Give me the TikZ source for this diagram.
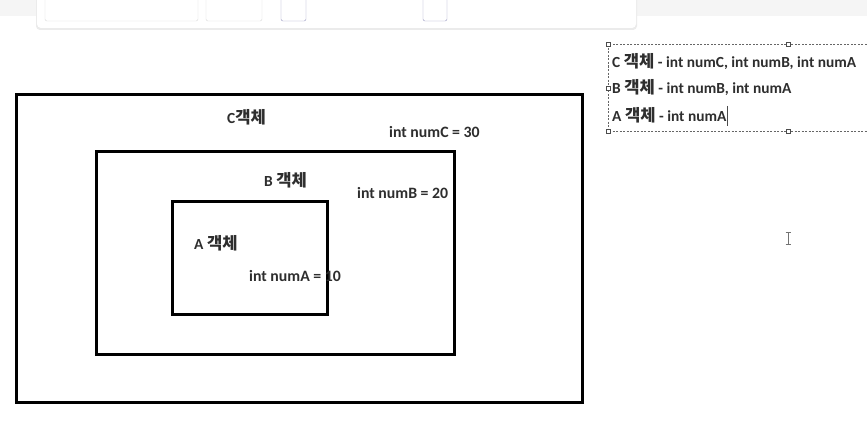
\documentclass[tikz,border=0pt]{standalone}
\usepackage{fontspec}
\setmainfont{Carlito}
\newfontfamily\kr{Noto Sans CJK KR}[Scale=1.08]
\tikzset{
  box/.style={draw=black, line width=2.7pt},
  lbl/.style={font=\bfseries\fontsize{15.8}{18}\selectfont, text=black!82, inner sep=0pt, anchor=west},
  klbl/.style={font=\bfseries\fontsize{15.4}{18}\selectfont, text=black!82, inner sep=0pt, anchor=west},
  handle/.style={draw=black!70, fill=white, line width=0.5pt, minimum size=4pt, inner sep=0pt, rectangle},
}
\newcommand{\K}[1]{{\kr\bfseries #1}}
\begin{document}
\begin{tikzpicture}[x=1pt,y=-1pt]
\useasboundingbox (0,0) rectangle (867,428);
\fill[white] (0,0) rectangle (867,428);
% UI toolbar remnant
\fill[black!4] (0,0) rectangle (867,16);
\fill[black!8, rounded corners=4pt] (36,-10) rectangle (637,30);
\fill[white, rounded corners=4pt] (37,-10) rectangle (636,28);
\draw[black!15, rounded corners=2pt] (45,-5) rectangle (198,21);
\draw[black!15, rounded corners=2pt] (206,-5) rectangle (262,21);
\draw[blue!40!black!40, rounded corners=2pt] (281,-5) rectangle (306,21);
\draw[blue!40!black!40, rounded corners=2pt] (423,-5) rectangle (447,21);
% boxes
\node[box, minimum width=566pt, minimum height=308pt, anchor=north west, inner sep=0pt] (C) at (15,93) {};
\node[box, minimum width=358pt, minimum height=203pt, anchor=north west, inner sep=0pt] (B) at (95,150) {};
\node[box, minimum width=155pt, minimum height=113pt, anchor=north west, inner sep=0pt] (A) at (171,200) {};
% labels
\node[klbl] (cl) at (227,117) {C\K{객체}};
\node[lbl] (cv) at (389,132) {int numC = 30};
\node[klbl] (bl) at (264,180) {B \K{객체}};
\node[lbl] (bv) at (357,193) {int numB = 20};
\node[klbl] (al) at (194,243) {A \K{객체}};
\node[lbl] (av) at (249,276) {int numA = 10};
% selected text box
\draw[black!60, dashed, dash pattern=on 2pt off 1.5pt, line width=0.5pt] (870,44) -- (608,44) -- (608,131) -- (870,131);
\node[handle] (h1) at (608,44) {};
\node[handle] (h2) at (788,44) {};
\node[handle] (h3) at (608,88) {};
\node[handle] (h4) at (608,131) {};
\node[handle] (h5) at (788,131) {};
\node[klbl] (t1) at (612,62) {C \K{객체} - int numC, int numB, int numA};
\node[klbl] (t2) at (612,88) {B \K{객체} - int numB, int numA};
\node[klbl] (t3) at (612,115) {A \K{객체} - int numA};
\draw[black!70, line width=0.6pt] (t3.north east) ++(1,-1) -- ++(0,20);
% mouse I-beam cursor
\coordinate (cur) at (788,238);
\draw[black!55, line width=1pt] (cur) ++(0,-6) -- ++(0,12);
\draw[black!55, line width=0.8pt] (cur) ++(-2.5,-6) -- ++(5,0);
\draw[black!55, line width=0.8pt] (cur) ++(-2.5,6) -- ++(5,0);
\end{tikzpicture}
\end{document}
